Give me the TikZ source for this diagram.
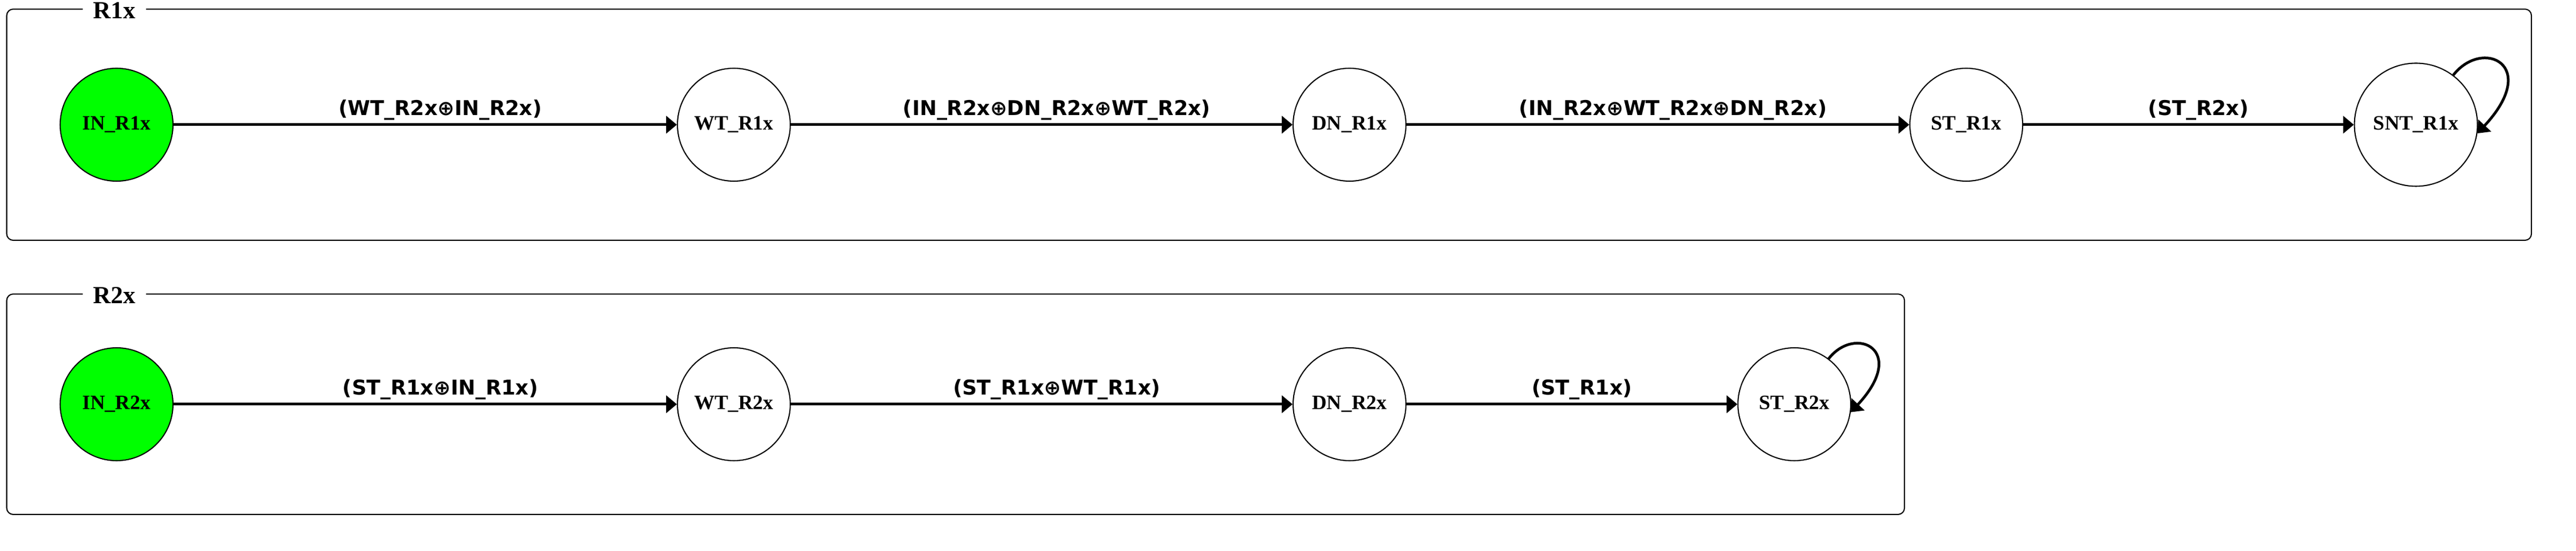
\documentclass[tikz,border=0pt]{standalone}
\usepackage{fontspec}
\setmainfont{Liberation Serif}
\newfontfamily\edgefont{DejaVu Sans}
\usetikzlibrary{arrows.meta}

\begin{document}
\begin{tikzpicture}[
  stnode/.style={draw, circle, line width=0.6pt, minimum size=2.1cm, inner sep=0pt, font=\fontsize{10.8}{13}\selectfont\bfseries},
  initnode/.style={stnode, fill=green},
  cluster/.style={draw, line width=0.6pt, rounded corners=0.12cm},
  clabel/.style={fill=white, inner xsep=0.2cm, inner ysep=0.04cm, anchor=base, font=\fontsize{13}{15}\selectfont\bfseries},
  trans/.style={-{Triangle[length=0.2cm, width=0.32cm]}, line width=0.05cm},
  guard/.style={anchor=south, inner sep=0.06cm, pos=0.53, font=\edgefont\fontsize{10.8}{13}\selectfont\bfseries},
]
\useasboundingbox (0,0) rectangle (47.95,10.25);

% Clusters
\draw[cluster] (0.125,5.78) rectangle (47.12,10.08);
\node[clabel] (r1lbl) at (2.13,9.90) {R1x};
\draw[cluster] (0.125,0.68) rectangle (35.45,4.78);
\node[clabel] (r2lbl) at (2.13,4.60) {R2x};

% States of R1x
\node[initnode] (in1) at (2.17,7.93) {IN\_R1x};
\node[stnode] (wt1) at (13.66,7.93) {WT\_R1x};
\node[stnode] (dn1) at (25.12,7.93) {DN\_R1x};
\node[stnode] (st1) at (36.60,7.93) {ST\_R1x};
\node[stnode, minimum size=2.29cm] (snt1) at (44.97,7.93) {SNT\_R1x};

% States of R2x
\node[initnode] (in2) at (2.17,2.73) {IN\_R2x};
\node[stnode] (wt2) at (13.66,2.73) {WT\_R2x};
\node[stnode] (dn2) at (25.12,2.73) {DN\_R2x};
\node[stnode] (st2) at (33.40,2.73) {ST\_R2x};

% Transitions of R1x
\draw[trans] (in1) -- node[guard] (g11) {(WT\_R2x⊕IN\_R2x)} (wt1);
\draw[trans] (wt1) -- node[guard] (g12) {(IN\_R2x⊕DN\_R2x⊕WT\_R2x)} (dn1);
\draw[trans] (dn1) -- node[guard] (g13) {(IN\_R2x⊕WT\_R2x⊕DN\_R2x)} (st1);
\draw[trans] (st1) -- node[guard] (g14) {(ST\_R2x)} (snt1);
\draw[trans] (snt1.53) .. controls +(52:0.89) and +(47:1.74) .. (snt1.-8);

% Transitions of R2x
\draw[trans] (in2) -- node[guard] (g21) {(ST\_R1x⊕IN\_R1x)} (wt2);
\draw[trans] (wt2) -- node[guard] (g22) {(ST\_R1x⊕WT\_R1x)} (dn2);
\draw[trans] (dn2) -- node[guard] (g23) {(ST\_R1x)} (st2);
\draw[trans] (st2.53) .. controls +(52:0.81) and +(47:1.58) .. (st2.-8);

\end{tikzpicture}
\end{document}
